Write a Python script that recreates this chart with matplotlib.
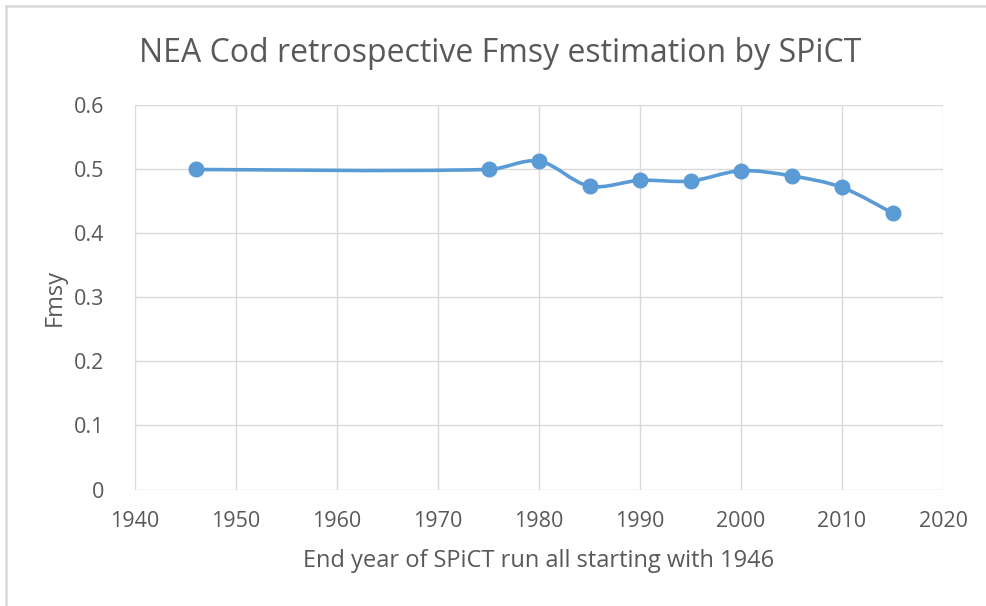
import matplotlib
matplotlib.use("Agg")
import matplotlib.pyplot as plt
from matplotlib.path import Path
from matplotlib.patches import PathPatch
from matplotlib.lines import Line2D
import numpy as np

years = [1946, 1975, 1980, 1985, 1990, 1995, 2000, 2005, 2010, 2015]
fmsy = [0.499, 0.499, 0.512, 0.473, 0.482, 0.481, 0.497, 0.489, 0.471, 0.431]

title = "NEA Cod retrospective Fmsy estimation by SPiCT"
xlabel = "End year of SPiCT run all starting with 1946"
ylabel = "Fmsy"
xticks = [1940, 1950, 1960, 1970, 1980, 1990, 2000, 2010, 2020]
yticks = [0, 0.1, 0.2, 0.3, 0.4, 0.5, 0.6]
ytick_labels = ["0", "0.1", "0.2", "0.3", "0.4", "0.5", "0.6"]

color = "#5B9BD5"
grid = "#D9D9D9"
text = "#595959"
plt.rcParams['font.family'] = ['Open Sans', 'DejaVu Sans']

fig = plt.figure(figsize=(9.86, 6.06), dpi=100)
ax = fig.add_axes([135/986, 1-489.5/606, (943-135)/986, (489.5-104.7)/606])
ax.set_xlim(1940, 2020)
ax.set_ylim(0, 0.6)

# Excel-style smoothed line: cubic Bezier with chord-length weighted tangents
pts = ax.transData.transform(np.column_stack([years, fmsy]))
n = len(pts)
d = np.r_[0.0, np.hypot(*np.diff(pts, axis=0).T), 0.0]  # d[i] = |p_i - p_{i-1}|
verts = [tuple(pts[0])]
codes = [Path.MOVETO]
def tangent(i):
    a = pts[max(i-1, 0)]
    b = pts[min(i+1, n-1)]
    return b - a
for i in range(n - 1):
    p1, p2 = pts[i], pts[i+1]
    t1, t2 = tangent(i), tangent(i+1)
    w1 = d[i+1] / (d[i] + d[i+1]) if (d[i] + d[i+1]) > 0 else 0
    w2 = d[i+1] / (d[i+1] + d[i+2]) if (d[i+1] + d[i+2]) > 0 else 0
    if i == 0:
        w1 = 0.5
    if i + 1 == n - 1:
        w2 = 0.5
    c1 = p1 + t1 * w1 / 3
    c2 = p2 - t2 * w2 / 3
    verts += [tuple(c1), tuple(c2), tuple(p2)]
    codes += [Path.CURVE4] * 3
verts = ax.transData.inverted().transform(np.array(verts))
ax.add_patch(PathPatch(Path(verts, codes), facecolor='none', edgecolor=color,
                       lw=2.6, capstyle='round', joinstyle='round', zorder=3))
ax.plot(years, fmsy, linestyle='none', marker='o', markersize=10.5,
        color=color, zorder=4)

ax.set_xticks(xticks)
ax.set_yticks(yticks)
ax.set_yticklabels(ytick_labels)
ax.grid(True, color=grid, lw=1.0)
ax.set_axisbelow(True)
for s in ax.spines.values():
    s.set_visible(False)
ax.tick_params(length=0, labelsize=15.5, colors=text, pad=15.5)
ax.tick_params(axis='y', pad=22)

ax.set_xlabel(xlabel, fontsize=17, color=text, labelpad=12)
ax.set_ylabel(ylabel, fontsize=17, color=text, labelpad=5)
fig.text(0.5075, 1-62/606, title, ha='center', va='baseline', fontsize=23,
         color=text)

# chart border (top and left visible)
fig.add_artist(Line2D([6/986, 1], [1-6/606, 1-6/606], color=grid, lw=1.8))
fig.add_artist(Line2D([6/986, 6/986], [0, 1-6/606], color=grid, lw=1.8))

fig.savefig("out.png", dpi=100, facecolor='white')
